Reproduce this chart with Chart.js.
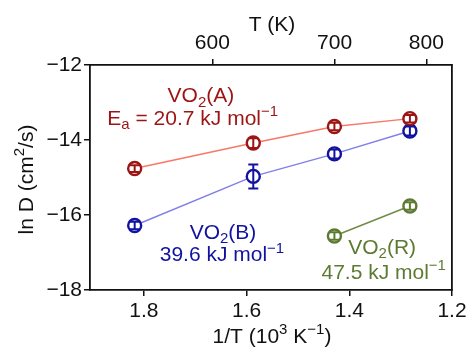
<!DOCTYPE html>
<html>
<head>
<meta charset="utf-8">
<script src="https://cdn.jsdelivr.net/npm/chart.js@4.4.1/dist/chart.umd.min.js"></script>
<style>
  html, body { margin: 0; padding: 0; background: #fff; }
  #wrap { width: 468px; height: 351px; }
</style>
</head>
<body>
<div id="wrap"><canvas id="c" width="468" height="351"></canvas></div>
<script>
// ---- data ----
const invT = [1.818, 1.587, 1.429, 1.282];          // 1/T (10^3 K^-1)
const lnD_A = [-14.76, -14.08, -13.64, -13.43];     // VO2(A)
const err_A = [0.09, 0.13, 0.1, 0.1];
const lnD_B = [-16.28, -14.97, -14.37, -13.76];     // VO2(B)
const err_B = [0.1, 0.32, 0.12, 0.12];
const invT_R = [1.429, 1.282];
const lnD_R = [-16.56, -15.76];                     // VO2(R)
const err_R = [0.1, 0.1];
const xTicks = [1.2, 1.4, 1.6, 1.8];
const yTicks = [-18, -16, -14, -12];
const topTicksK = [600, 700, 800];

const FONT = '"Liberation Sans", Arial, Helvetica, sans-serif';
const FS = 21;

function pts(xs, ys) { return xs.map((x, i) => ({ x: x, y: ys[i] })); }

const colA = '#9c1414', lineA = '#f87868';
const colB = '#1212a0', lineB = '#8080e8';
const colR = '#5c7a32', lineR = '#6f8c45';

// rich text helper: parts = [[text, mode]], mode: '', 'sub', 'sup'
function drawRich(ctx, parts, cx, cy, size, color, align) {
  ctx.save();
  ctx.fillStyle = color;
  ctx.textBaseline = 'middle';
  ctx.textAlign = 'left';
  const small = Math.round(size * 0.7);
  let total = 0;
  parts.forEach(p => {
    ctx.font = (p[1] ? small : size) + 'px ' + FONT;
    total += ctx.measureText(p[0]).width;
  });
  let x = align === 'left' ? cx : cx - total / 2;
  parts.forEach(p => {
    let dy = 0;
    if (p[1] === 'sub') dy = size * 0.28;
    if (p[1] === 'sup') dy = -size * 0.34;
    ctx.font = (p[1] ? small : size) + 'px ' + FONT;
    ctx.fillText(p[0], x, cy + dy);
    x += ctx.measureText(p[0]).width;
  });
  ctx.restore();
}

const annotations = [
  { x: 1.689, y: -12.84, c: colA, parts: [['VO',''],['2','sub'],['(A)','']] },
  { x: 1.705, y: -13.45, c: colA, parts: [['E',''],['a','sub'],[' = 20.7 kJ mol',''],['\u22121','sup']] },
  { x: 1.646, y: -16.49, c: colB, parts: [['VO',''],['2','sub'],['(B)','']] },
  { x: 1.648, y: -17.08, c: colB, parts: [['39.6 kJ mol',''],['\u22121','sup']] },
  { x: 1.336, y: -16.88, c: colR, parts: [['VO',''],['2','sub'],['(R)','']] },
  { x: 1.333, y: -17.55, c: colR, parts: [['47.5 kJ mol',''],['\u22121','sup']] },
];

const errorBarPlugin = {
  id: 'errbars',
  afterDatasetsDraw(chart) {
    const ctx = chart.ctx;
    const xs = chart.scales.x, ys = chart.scales.y;
    chart.data.datasets.forEach(ds => {
      if (!ds.errors) return;
      ctx.save();
      ctx.strokeStyle = ds.pointBorderColor;
      ctx.lineWidth = 2;
      ds.data.forEach((p, i) => {
        const px = xs.getPixelForValue(p.x);
        const y1 = ys.getPixelForValue(p.y - ds.errors[i]);
        const y2 = ys.getPixelForValue(p.y + ds.errors[i]);
        ctx.beginPath();
        ctx.moveTo(px, y1); ctx.lineTo(px, y2);
        ctx.moveTo(px - 5, y1); ctx.lineTo(px + 5, y1);
        ctx.moveTo(px - 5, y2); ctx.lineTo(px + 5, y2);
        ctx.stroke();
      });
      ctx.restore();
    });
  }
};

const textPlugin = {
  id: 'texts',
  afterDraw(chart) {
    const ctx = chart.ctx;
    const xs = chart.scales.x, ys = chart.scales.y;
    const a = chart.chartArea;
    annotations.forEach(t => {
      drawRich(ctx, t.parts, xs.getPixelForValue(t.x), ys.getPixelForValue(t.y), FS, t.c);
    });
    // axis titles
    drawRich(ctx, [['1/T (10',''],['3','sup'],[' K',''],['\u22121','sup'],[')','']], 272, 337, FS, '#111');
    drawRich(ctx, [['T (K)','']], 272, 25, FS, '#111');
    ctx.save();
    ctx.translate(27, (a.top + a.bottom) / 2 + 2);
    ctx.rotate(-Math.PI / 2);
    drawRich(ctx, [['ln D (cm',''],['2','sup'],['/s)','']], 0, 0, FS, '#111');
    ctx.restore();
  }
};

function mkDs(label, data, errs, pc, lc) {
  return {
    label, data: data, errors: errs,
    showLine: true,
    borderColor: lc, borderWidth: 1.5,
    pointBorderColor: pc, pointBackgroundColor: '#fff',
    pointRadius: 6.5, pointBorderWidth: 2.4, pointHoverRadius: 6.5,
    tension: 0
  };
}

const tickFont = { family: FONT, size: FS };

new Chart(document.getElementById('c'), {
  type: 'scatter',
  data: {
    datasets: [
      mkDs('VO2(A)', pts(invT, lnD_A), err_A, colA, lineA),
      mkDs('VO2(B)', pts(invT, lnD_B), err_B, colB, lineB),
      mkDs('VO2(R)', pts(invT_R, lnD_R), err_R, colR, lineR),
    ]
  },
  options: {
    responsive: false,
    animation: false,
    devicePixelRatio: 1,
    layout: { padding: { left: 0, right: 0, top: 0, bottom: 0 } },
    plugins: { legend: { display: false }, tooltip: { enabled: false } },
    scales: {
      x: {
        type: 'linear', position: 'bottom', reverse: true,
        min: 1.2, max: 1.905,
        afterBuildTicks(ax) { ax.ticks = xTicks.map(v => ({ value: v })); },
        afterFit(ax) { ax.height = 61; },
        ticks: { font: tickFont, color: '#111', padding: 3,
          callback: v => Number(v).toFixed(1) },
        grid: { drawOnChartArea: false, drawTicks: true, tickLength: 6, color: '#111', lineWidth: 1.5 },
        border: { display: true, color: '#111', width: 1.8 }
      },
      xTop: {
        type: 'linear', position: 'top', reverse: true,
        min: 1.2, max: 1.905,
        afterBuildTicks(ax) { ax.ticks = topTicksK.map(k => ({ value: 1000 / k })); },
        afterFit(ax) { ax.height = 65; },
        ticks: { font: tickFont, color: '#111', padding: 3,
          callback: v => String(Math.round(1000 / v)) },
        grid: { drawOnChartArea: false, drawTicks: true, tickLength: 6, color: '#111', lineWidth: 1.5 },
        border: { display: true, color: '#111', width: 1.8 }
      },
      y: {
        type: 'linear', position: 'left',
        min: -18, max: -12,
        afterBuildTicks(ax) { ax.ticks = yTicks.map(v => ({ value: v })); },
        afterFit(ax) { ax.width = 90; },
        ticks: { font: tickFont, color: '#111', padding: 2,
          callback: v => String(v).replace('-', '\u2212') },
        grid: { drawOnChartArea: false, drawTicks: true, tickLength: 6, color: '#111', lineWidth: 1.5 },
        border: { display: true, color: '#111', width: 1.8 }
      },
      yRight: {
        type: 'linear', position: 'right',
        min: -18, max: -12,
        afterFit(ax) { ax.width = 16; },
        ticks: { display: false },
        grid: { drawOnChartArea: false, drawTicks: false },
        border: { display: true, color: '#111', width: 1.8 }
      }
    }
  },
  plugins: [errorBarPlugin, textPlugin]
});
</script>
</body>
</html>
